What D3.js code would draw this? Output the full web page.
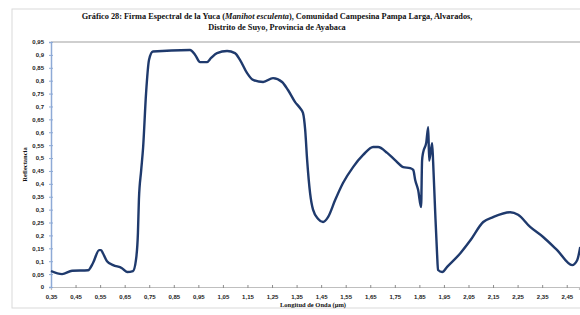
<!DOCTYPE html>
<html>
<head>
<meta charset="utf-8">
<script src="https://cdn.jsdelivr.net/npm/d3@7"></script>
<style>
  body { margin: 0; background: #fff; }
  svg { display: block; font-family: "Liberation Serif", "DejaVu Serif", serif; }
</style>
</head>
<body>
<div class="canvas"></div>
<script>
// wavelength (µm) and reflectance
const wavelength = [0.35, 0.395, 0.436, 0.501, 0.521, 0.546, 0.554, 0.562, 0.578, 0.603, 0.639, 0.660, 0.684,
  0.696, 0.704, 0.708, 0.717, 0.725, 0.737, 0.749, 0.765, 0.916, 0.937, 0.957, 0.985, 1.002, 1.026, 1.067, 1.099, 1.120,
  1.148, 1.173, 1.214, 1.254, 1.291, 1.315, 1.344, 1.364, 1.376, 1.385, 1.393, 1.405, 1.417, 1.438, 1.458,
  1.478, 1.507, 1.539, 1.580, 1.621, 1.662, 1.682, 1.719, 1.751, 1.784, 1.812, 1.825, 1.833, 1.845, 1.857,
  1.861, 1.865, 1.878, 1.886, 1.890, 1.902, 1.906, 1.914, 1.922, 1.926, 1.943, 1.963, 2.016, 2.057, 2.110,
  2.150, 2.220, 2.252, 2.301, 2.354, 2.411, 2.472, 2.493, 2.505];
const reflectance = [0.062, 0.050, 0.063, 0.065, 0.093, 0.143, 0.143, 0.130, 0.100, 0.085, 0.073, 0.058, 0.062,
  0.105, 0.210, 0.340, 0.450, 0.540, 0.750, 0.880, 0.913, 0.919, 0.900, 0.872, 0.872, 0.888, 0.907, 0.915, 0.907, 0.880,
  0.830, 0.803, 0.795, 0.810, 0.795, 0.764, 0.717, 0.694, 0.675, 0.609, 0.492, 0.364, 0.300, 0.264, 0.252,
  0.271, 0.337, 0.403, 0.465, 0.512, 0.543, 0.543, 0.520, 0.492, 0.465, 0.461, 0.454, 0.415, 0.376, 0.310,
  0.490, 0.520, 0.560, 0.620, 0.490, 0.558, 0.485, 0.300, 0.130, 0.066, 0.058, 0.078, 0.130, 0.180, 0.252,
  0.271, 0.290, 0.280, 0.233, 0.194, 0.143, 0.085, 0.105, 0.155];

const xTicks = [0.35, 0.45, 0.55, 0.65, 0.75, 0.85, 0.95, 1.05, 1.15, 1.25, 1.35, 1.45, 1.55, 1.65, 1.75,
  1.85, 1.95, 2.05, 2.15, 2.25, 2.35, 2.45];
const yTicks = [0, 0.05, 0.1, 0.15, 0.2, 0.25, 0.3, 0.35, 0.4, 0.45, 0.5, 0.55, 0.6, 0.65, 0.7, 0.75, 0.8,
  0.85, 0.9, 0.95];

const titleLines = [
  ["Gráfico 28: Firma Espectral de la Yuca (", "Manihot esculenta", "), Comunidad Campesina Pampa Larga, Alvarados,"],
  ["Distrito de Suyo, Provincia de Ayabaca"]
];

const W = 580, H = 315;
const m = { top: 42, left: 51, bottom: 28, right: 1 };

const svg = d3.select('.canvas')
  .append('svg')
  .attr('width', W)
  .attr('height', H);

// outer chart frame (cropped at the right)
svg.append('rect')
  .attr('x', 12).attr('y', 9)
  .attr('width', W + 10).attr('height', 299)
  .attr('fill', 'none')
  .attr('stroke', '#d9d9d9');

const x = d3.scaleLinear().domain([0.35, 2.5]).range([m.left, W - m.right]);
const y = d3.scaleLinear().domain([0, 0.95]).range([H - m.bottom, m.top]);

const fmt = v => String(+v.toFixed(2)).replace('.', ',');

// plot area top border
svg.append('line')
  .attr('x1', m.left).attr('x2', W)
  .attr('y1', y(0.95)).attr('y2', y(0.95))
  .attr('stroke', '#bfbfbf').attr('stroke-width', 1.5);

// axes
const xAxis = svg.append('g')
  .attr('transform', `translate(0, ${y(0)})`)
  .call(d3.axisBottom(x).tickValues(xTicks).tickFormat(fmt).tickSize(3).tickPadding(5));
xAxis.select('.domain').attr('stroke', '#bfbfbf').attr('stroke-width', 1.2);
xAxis.selectAll('.tick line').attr('stroke', '#8c8c8c').attr('y1', -2).attr('y2', 1);
xAxis.selectAll('text').attr('font-size', 6).attr('fill', '#222').style('font-weight', 'bold');

const yAxis = svg.append('g')
  .attr('transform', `translate(${m.left}, 0)`)
  .call(d3.axisLeft(y).tickValues(yTicks).tickFormat(fmt).tickSize(2).tickPadding(5));
yAxis.select('.domain').attr('stroke', '#8eaad6').attr('stroke-width', 1.5);
yAxis.selectAll('.tick line').attr('stroke', '#8eaad6').attr('x1', -2).attr('x2', 2);
yAxis.selectAll('text').attr('font-size', 6).attr('fill', '#222').style('font-weight', 'bold');

// spectral line
const line = d3.line()
  .x((d, i) => x(wavelength[i]))
  .y(d => y(d))
  .curve(d3.curveMonotoneX);

svg.append('path')
  .datum(reflectance)
  .attr('d', line)
  .attr('fill', 'none')
  .attr('stroke', '#1f3a6d')
  .attr('stroke-width', 2.4)
  .attr('stroke-linejoin', 'round');

// title
const title = svg.append('g').attr('font-weight', 'bold').attr('font-size', 8.3).attr('fill', '#111');
titleLines.forEach((parts, li) => {
  const t = title.append('text')
    .attr('x', 277).attr('y', 19 + li * 11)
    .attr('text-anchor', 'middle');
  parts.forEach((p, pi) => {
    t.append('tspan').text(p).attr('font-style', pi === 1 ? 'italic' : null);
  });
});

// axis titles
svg.append('text')
  .attr('transform', `translate(27, ${y(0.475)}) rotate(-90)`)
  .attr('text-anchor', 'middle')
  .attr('font-size', 6.5).attr('font-weight', 'bold').attr('fill', '#111')
  .text('Reflectancia');

svg.append('text')
  .attr('x', 313).attr('y', 307)
  .attr('text-anchor', 'middle')
  .attr('font-size', 6.5).attr('font-weight', 'bold').attr('fill', '#111')
  .text('Longitud de Onda (µm)');
</script>
</body>
</html>
